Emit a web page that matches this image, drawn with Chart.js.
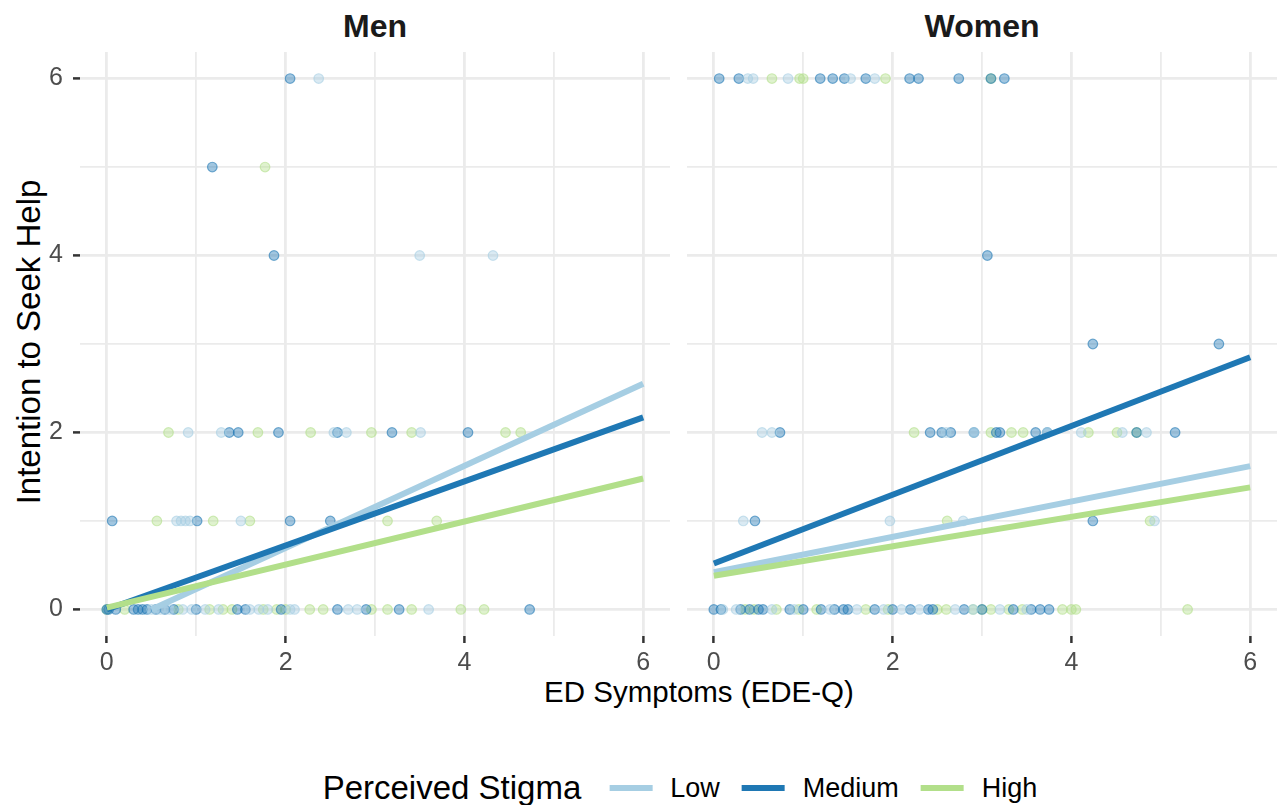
<!DOCTYPE html>
<html>
<head>
<meta charset="utf-8">
<script src="https://cdn.jsdelivr.net/npm/chart.js@4.4.1/dist/chart.umd.min.js"></script>
<style>
  body { margin: 0; background: #fff; font-family: "Liberation Sans", Arial, sans-serif; }
  #wrap { position: relative; width: 1279px; height: 805px; overflow: hidden; }
  .abs { position: absolute; }
  .strip { top: 8px; font-size: 32px; font-weight: bold; color: #1a1a1a; transform: translateX(-50%); white-space: nowrap; }
  #ytitle { left: 29px; top: 342px; font-size: 33px; color: #000; transform: translate(-50%, -50%) rotate(-90deg); white-space: nowrap; }
  #xtitle { left: 699px; top: 692px; font-size: 29.5px; color: #000; transform: translate(-50%, -50%); white-space: nowrap; }
  #legend { left: 680px; top: 788px; transform: translate(-50%, -50%); display: flex; align-items: center; white-space: nowrap; }
  #legend .ttl { font-size: 33px; color: #000; margin-right: 28px; }
  #legend .key { width: 43px; height: 6px; margin-right: 18px; }
  #legend .lab { font-size: 27px; color: #000; margin-right: 22px; }
</style>
</head>
<body>
<div id="wrap">
  <div class="abs strip" style="left:375px">Men</div>
  <div class="abs strip" style="left:982px">Women</div>
  <div id="ytitle" class="abs">Intention to Seek Help</div>
  <div id="xtitle" class="abs">ED Symptoms (EDE-Q)</div>
  <canvas id="menChart" class="abs" style="left:0px;top:52px"></canvas>
  <canvas id="womenChart" class="abs" style="left:687px;top:52px"></canvas>
  <div id="legend" class="abs"></div>
</div>
<script>
// stigma groups and colours
const groups = ['Low', 'Medium', 'High'];
const colors = ['#A6CEE3', '#1F78B4', '#B2DF8A'];
const xTicks = [0, 2, 4, 6];
const yTicks = [0, 2, 4, 6];

// Men: [EDE-Q, intention]
const menLow = [[2.37,6],[3.5,4],[4.32,4],[0.91,2],[1.28,2],[2.54,2],[2.68,2],[3.51,2],
  [0.78,1],[0.83,1],[0.88,1],[0.93,1],[1.5,1],
  [0.5,0],[0.6,0],[0.7,0],[0.85,0],[0.95,0],[1.1,0],[1.25,0],[1.6,0],[1.7,0],[1.8,0],[2.05,0],[2.1,0],[2.7,0],[2.8,0],[3.6,0]];
const menMedium = [[2.05,6],[1.18,5],[1.87,4],[1.37,2],[1.47,2],[1.92,2],[2.58,2],[3.19,2],[4.04,2],
  [0.06,1],[1.01,1],[2.05,1],[2.5,1],
  [0,0],[0.02,0],[0.1,0],[0.3,0],[0.35,0],[0.4,0],[0.45,0],[0.55,0],[0.65,0],[0.75,0],[1.0,0],[1.46,0],[1.55,0],[1.95,0],[2.58,0],[2.9,0],[3.27,0],[4.73,0]];
const menHigh = [[1.77,5],[0.69,2],[1.69,2],[2.28,2],[2.96,2],[3.41,2],[4.46,2],[4.63,2],
  [0.56,1],[1.19,1],[1.6,1],[3.14,1],[3.69,1],
  [0,0],[0.2,0],[0.8,0],[1.15,0],[1.3,0],[1.4,0],[1.75,0],[1.9,0],[2.0,0],[2.27,0],[2.42,0],[2.96,0],[3.14,0],[3.41,0],[3.96,0],[4.22,0]];

// Women
const womenLow = [[0.38,6],[0.44,6],[0.83,6],[1.53,6],[1.8,6],
  [0.54,2],[0.65,2],[2.6,2],[2.91,2],[3.73,2],[4.11,2],[4.57,2],[4.84,2],
  [0.33,1],[1.97,1],[2.79,1],[4.93,1],
  [0.1,0],[0.25,0],[0.65,0],[0.9,0],[1.3,0],[1.6,0],[1.9,0],[2.1,0],[2.3,0],[2.7,0],[2.9,0],[3.2,0],[3.5,0]];
const womenMedium = [[0.06,6],[0.28,6],[1.19,6],[1.33,6],[1.46,6],[1.7,6],[2.19,6],[2.29,6],[2.74,6],[3.1,6],[3.25,6],
  [3.06,4],[4.24,3],[5.65,3],
  [0.74,2],[2.42,2],[2.55,2],[2.65,2],[2.91,2],[3.16,2],[3.2,2],[3.6,2],[3.73,2],[4.73,2],[5.16,2],
  [0.46,1],[4.24,1],
  [0,0],[0.08,0],[0.3,0],[0.4,0],[0.5,0],[0.55,0],[0.85,0],[1.0,0],[1.2,0],[1.35,0],[1.45,0],[1.5,0],[1.8,0],[2.0,0],[2.2,0],[2.4,0],[2.45,0],[2.8,0],[3.0,0],[3.35,0],[3.55,0],[3.65,0],[3.75,0]];
const womenHigh = [[0.65,6],[0.96,6],[1.0,6],[1.92,6],[3.1,6],
  [2.24,2],[3.1,2],[3.33,2],[3.46,2],[4.19,2],[4.51,2],[4.73,2],
  [2.61,1],[4.88,1],
  [0.35,0],[0.45,0],[0.7,0],[0.95,0],[1.15,0],[1.7,0],[1.95,0],[2.5,0],[2.6,0],[2.9,0],[3.0,0],[3.1,0],[3.3,0],[3.45,0],[3.9,0],[4.0,0],[4.05,0],[5.3,0]];

// fitted lines (start, end)
const menFit = { Low: [[0.5,0],[6,2.55]], Medium: [[0,0],[6,2.17]], High: [[0,0.02],[6,1.48]] };
const womenFit = { Low: [[0,0.42],[6,1.62]], Medium: [[0,0.52],[6,2.85]], High: [[0,0.38],[6,1.38]] };

function rgba(hex, a) {
  var n = parseInt(hex.slice(1), 16);
  return 'rgba(' + (n >> 16) + ',' + ((n >> 8) & 255) + ',' + (n & 255) + ',' + a + ')';
}

function toXY(arr) {
  return arr.map(function (p) { return { x: p[0], y: p[1] }; });
}

function buildDatasets(points, fit) {
  var ds = [];
  groups.forEach(function (g, i) {
    ds.push({
      label: g,
      data: toXY(points[i]),
      backgroundColor: rgba(colors[i], 0.42),
      borderColor: rgba(colors[i], 0.6),
      borderWidth: 1.2,
      pointRadius: 4.8,
      showLine: false,
      order: 10
    });
  });
  groups.forEach(function (g, i) {
    ds.push({
      label: g + ' fit',
      data: toXY(fit[g]),
      borderColor: colors[i],
      borderWidth: 6,
      pointRadius: 0,
      showLine: true,
      fill: false,
      order: 3 - i
    });
  });
  return ds;
}

function isMajor(v) { return xTicks.indexOf(v) >= 0; }

// keep the plot area fixed: drop the padding Chart.js reserves for edge labels
function noPad(s) {
  s.paddingTop = 0; s.paddingBottom = 0; s.paddingLeft = 0; s.paddingRight = 0;
}

function makeChart(id, w, h, points, fit, showY) {
  var cv = document.getElementById(id);
  cv.width = w; cv.height = h;
  cv.style.width = w + 'px'; cv.style.height = h + 'px';
  return new Chart(cv, {
    type: 'scatter',
    data: { datasets: buildDatasets(points, fit) },
    options: {
      responsive: false,
      animation: false,
      devicePixelRatio: 1,
      layout: { padding: 0, autoPadding: false },
      plugins: { legend: { display: false }, tooltip: { enabled: false } },
      scales: {
        x: {
          type: 'linear', min: -0.3, max: 6.3,
          border: { display: false },
          grid: {
            color: '#EBEBEB',
            lineWidth: function (c) { return isMajor(c.tick.value) ? 2.8 : 1.8; },
            tickColor: function (c) { return isMajor(c.tick.value) ? '#333333' : 'rgba(0,0,0,0)'; },
            tickWidth: 2.5,
            tickLength: 7,
            drawTicks: true
          },
          ticks: {
            stepSize: 1, includeBounds: false, padding: 5,
            color: '#4D4D4D', font: { size: 25, family: 'Liberation Sans' },
            maxRotation: 0, autoSkip: false,
            callback: function (v) { return isMajor(v) ? String(v) : ''; }
          },
          afterFit: function (s) { s.height = 46; noPad(s); }
        },
        y: {
          type: 'linear', min: -0.3, max: 6.3,
          border: { display: false },
          grid: {
            color: '#EBEBEB',
            lineWidth: function (c) { return yTicks.indexOf(c.tick.value) >= 0 ? 2.8 : 1.8; },
            tickColor: function (c) { return showY && yTicks.indexOf(c.tick.value) >= 0 ? '#333333' : 'rgba(0,0,0,0)'; },
            tickWidth: 2.5,
            tickLength: showY ? 7 : 0,
            drawTicks: showY
          },
          ticks: {
            display: showY,
            stepSize: 1, includeBounds: false, padding: 10,
            color: '#4D4D4D', font: { size: 25, family: 'Liberation Sans' },
            autoSkip: false,
            callback: function (v) { return yTicks.indexOf(v) >= 0 ? String(v) : ''; }
          },
          afterFit: function (s) { s.width = showY ? 80 : 0; noPad(s); }
        }
      }
    }
  });
}

makeChart('menChart', 670, 630, [menLow, menMedium, menHigh], menFit, true);
makeChart('womenChart', 590, 630, [womenLow, womenMedium, womenHigh], womenFit, false);

// legend
var legend = document.getElementById('legend');
var t = document.createElement('span');
t.className = 'ttl'; t.textContent = 'Perceived Stigma';
legend.appendChild(t);
groups.forEach(function (g, i) {
  var k = document.createElement('span');
  k.className = 'key'; k.style.background = colors[i];
  legend.appendChild(k);
  var l = document.createElement('span');
  l.className = 'lab'; l.textContent = g;
  if (i === groups.length - 1) l.style.marginRight = '0px';
  legend.appendChild(l);
});
</script>
</body>
</html>
